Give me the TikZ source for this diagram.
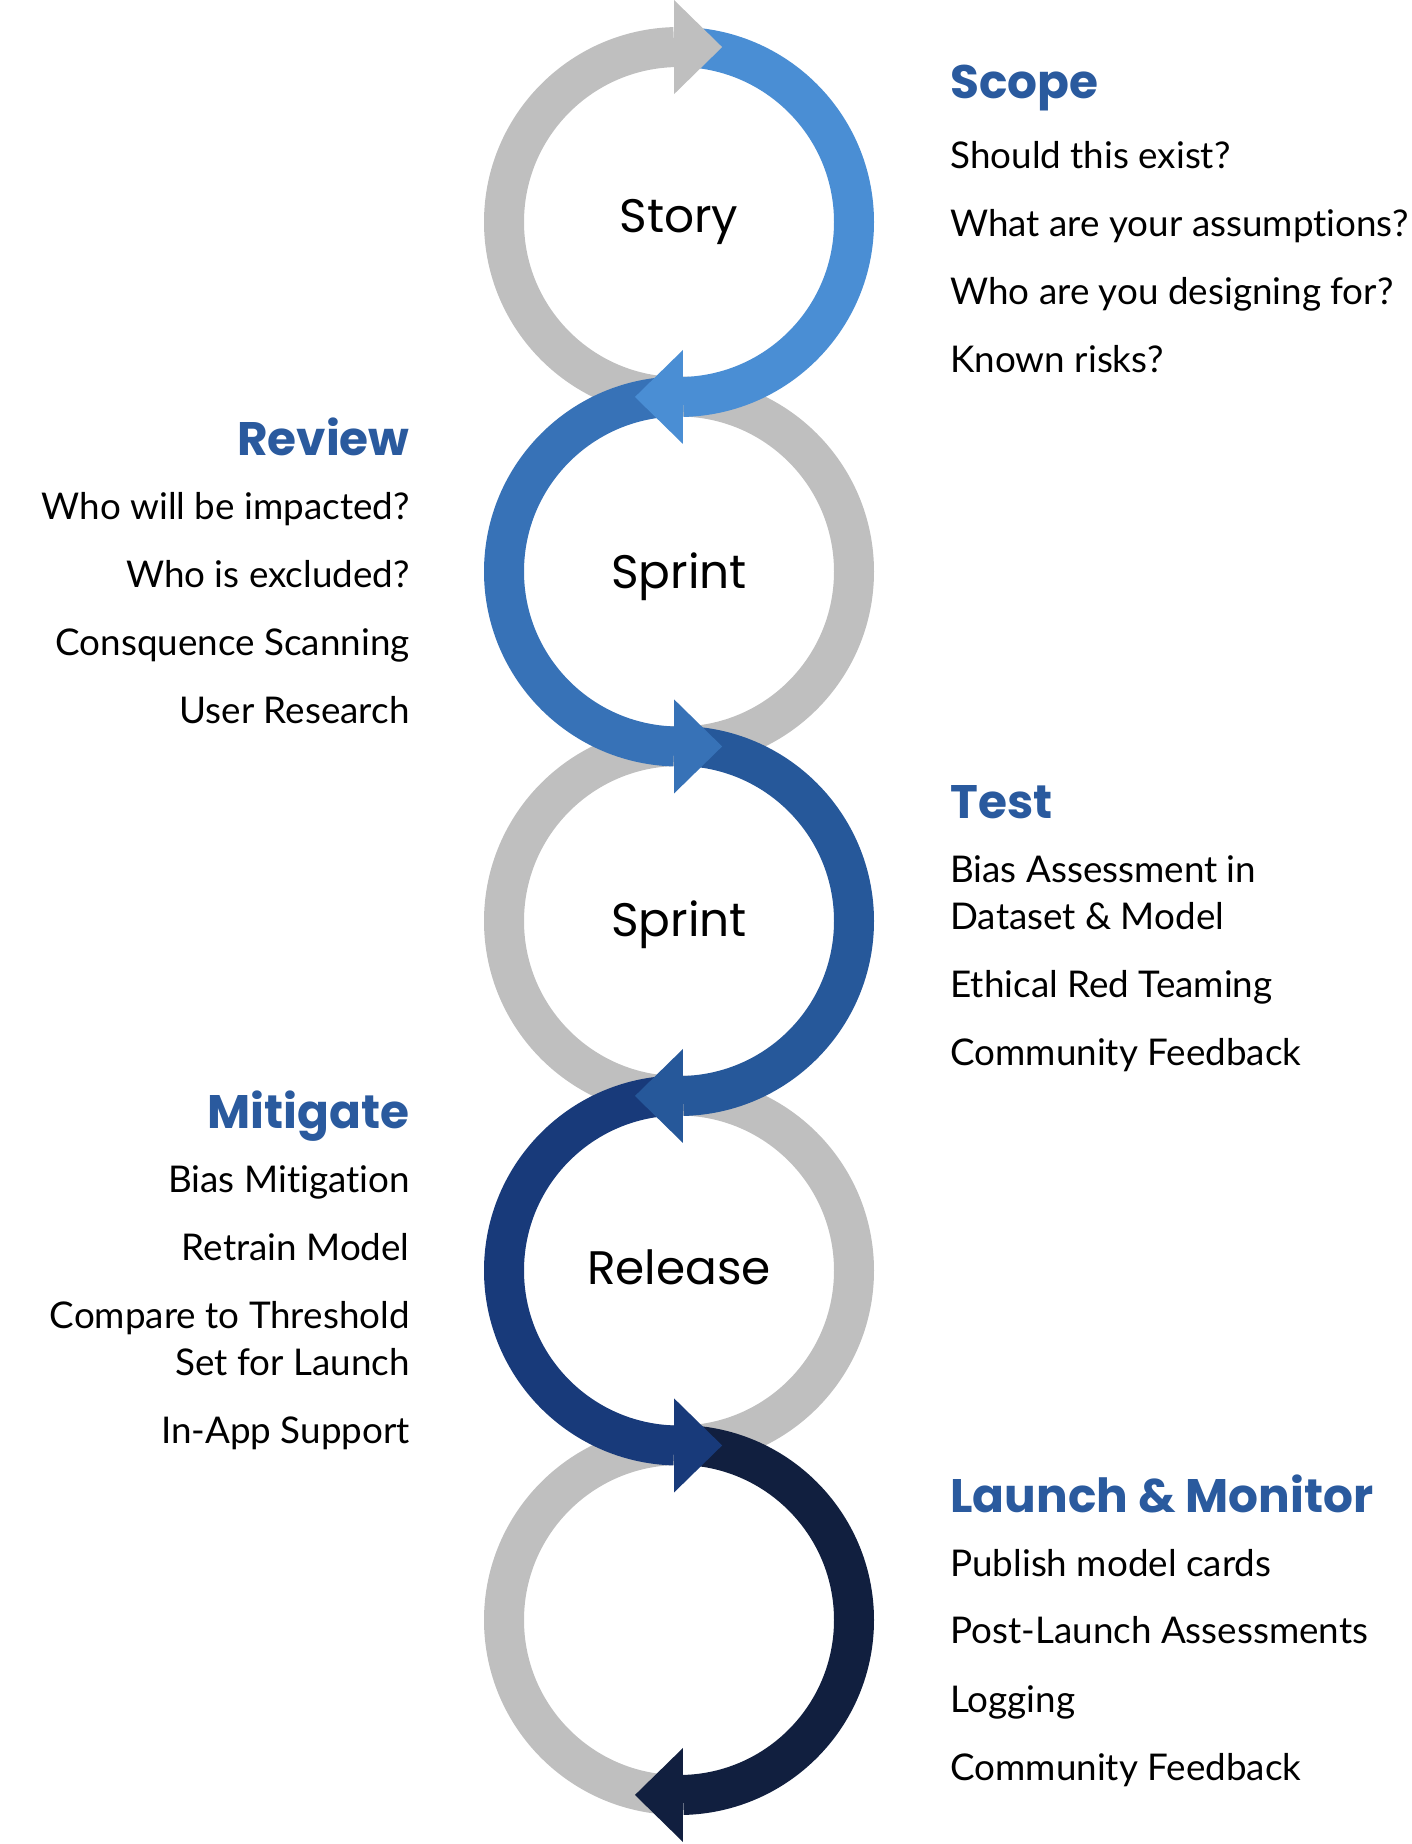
\documentclass[tikz,border=0pt]{standalone}
\usepackage{fontspec}
\setmainfont{Lato}[Ligatures=NoCommon]
\newfontfamily\headfont{Poppins}
\usepackage{xcolor}
\definecolor{colGray}{HTML}{BFBFBF}
\definecolor{colStory}{HTML}{4A8ED4}
\definecolor{colSprintA}{HTML}{3772B7}
\definecolor{colSprintB}{HTML}{26589A}
\definecolor{colRelease}{HTML}{183A7A}
\definecolor{colLaunch}{HTML}{111F3F}
\definecolor{colHead}{HTML}{2A5A9E}
\usepackage{tikz}
\usetikzlibrary{positioning}

\tikzset{
  ring/.style={line width=20pt, colGray},
  band/.style={line width=20pt},
  stage/.style={font=\headfont\fontsize{23.5}{28}\selectfont, inner sep=0pt, anchor=base},
  phase/.style={font=\headfont\bfseries\fontsize{23.5}{28}\selectfont, text=colHead, inner sep=0pt},
  item/.style={font=\fontsize{18.4}{23}\selectfont, inner sep=0pt},
}
% arrow heads: base point, then pointing right or left
\newcommand{\tipR}[2]{\fill[#1] (#2) ++(0,47) -- ++(48,-47) -- ++(-48,-47) -- cycle;}
\newcommand{\tipL}[2]{\fill[#1] (#2) ++(0,47) -- ++(-48,-47) -- ++(48,-47) -- cycle;}

\begin{document}
\begin{tikzpicture}[x=0.5pt, y=0.5pt]
    \useasboundingbox (0,0) rectangle (1412,-1844);
    % Centres
    \coordinate (c1) at (679,-222);
    \coordinate (c2) at (679,-571.5);
    \coordinate (c3) at (679,-921);
    \coordinate (c4) at (679,-1270.5);
    \coordinate (c5) at (679,-1620);
    % Grey halves
    \draw[ring] (c1) ++(270:87.5pt) arc[start angle=270, end angle=91.6, radius=87.5pt] coordinate (g1);
    \draw[ring] (c2) ++(-90:87.5pt) arc[start angle=-90, end angle=90, radius=87.5pt];
    \draw[ring] (c3) ++(90:87.5pt) arc[start angle=90, end angle=270, radius=87.5pt];
    \draw[ring] (c4) ++(-90:87.5pt) arc[start angle=-90, end angle=90, radius=87.5pt];
    \draw[ring] (c5) ++(90:87.5pt) arc[start angle=90, end angle=270, radius=87.5pt];
    % Coloured halves
    \draw[band, colStory] (c1) ++(90:87.5pt) arc[start angle=90, end angle=-88.7, radius=87.5pt] coordinate (h1);
    \draw[band, colSprintA] (c2) ++(90:87.5pt) arc[start angle=90, end angle=268.4, radius=87.5pt] coordinate (h2);
    \draw[band, colSprintB] (c3) ++(90:87.5pt) arc[start angle=90, end angle=-88.7, radius=87.5pt] coordinate (h3);
    \draw[band, colRelease] (c4) ++(90:87.5pt) arc[start angle=90, end angle=268.4, radius=87.5pt] coordinate (h4);
    \draw[band, colLaunch] (c5) ++(90:87.5pt) arc[start angle=90, end angle=-88.7, radius=87.5pt] coordinate (h5);
    % Heads
    \tipR{colGray}{g1}
    \tipL{colLaunch}{h5}
    \tipR{colRelease}{h4}
    \tipL{colSprintB}{h3}
    \tipR{colSprintA}{h2}
    \tipL{colStory}{h1}
    % Stage labels
    \node[stage] (story) at (679,-232) {Story};
    \node[stage] (sprintA) at (679,-588) {Sprint};
    \node[stage] (sprintB) at (679,-936) {Sprint};
    \node[stage] (release) at (679,-1284) {Release};

    % Scope
    \node[phase, anchor=base west] (scope) at (950,-98) {Scope};
    \node[item, below=35pt of scope.base west, anchor=base west] (scope1) {Should this exist?};
    \node[item, below=34pt of scope1.base west, anchor=base west] (scope2) {What are your assumptions?};
    \node[item, below=34pt of scope2.base west, anchor=base west] (scope3) {Who are you designing for?};
    \node[item, below=34pt of scope3.base west, anchor=base west] (scope4) {Known risks?};
    % Review
    \node[phase, anchor=base east] (review) at (410,-455) {Review};
    \node[item, below=32pt of review.base east, anchor=base east] (review1) {Who will be impacted?};
    \node[item, below=34pt of review1.base east, anchor=base east] (review2) {Who is excluded?};
    \node[item, below=34pt of review2.base east, anchor=base east] (review3) {Consquence Scanning};
    \node[item, below=34pt of review3.base east, anchor=base east] (review4) {User Research};
    % Test
    \node[phase, anchor=base west] (test) at (950,-818) {Test};
    \node[item, below=32pt of test.base west, anchor=base west] (test1) {Bias Assessment in};
    \node[item, below=23.5pt of test1.base west, anchor=base west] (test1b) {Dataset \& Model};
    \node[item, below=34pt of test1b.base west, anchor=base west] (test2) {Ethical Red Teaming};
    \node[item, below=34pt of test2.base west, anchor=base west] (test3) {Community Feedback};
    % Mitigate
    \node[phase, anchor=base east] (mitigate) at (410,-1128) {Mitigate};
    \node[item, below=32pt of mitigate.base east, anchor=base east] (mitigate1) {Bias Mitigation};
    \node[item, below=34pt of mitigate1.base east, anchor=base east] (mitigate2) {Retrain Model};
    \node[item, below=34pt of mitigate2.base east, anchor=base east] (mitigate3) {Compare to Threshold};
    \node[item, below=23.5pt of mitigate3.base east, anchor=base east] (mitigate3b) {Set for Launch};
    \node[item, below=34pt of mitigate3b.base east, anchor=base east] (mitigate4) {In-App Support};
    % Launch & Monitor
    \node[phase, anchor=base west] (launch) at (950,-1512) {Launch \& Monitor};
    \node[item, below=32pt of launch.base west, anchor=base west] (launch1) {Publish model cards};
    \node[item, below=33.5pt of launch1.base west, anchor=base west] (launch2) {Post-Launch Assessments};
    \node[item, below=34.5pt of launch2.base west, anchor=base west] (launch3) {Logging};
    \node[item, below=34pt of launch3.base west, anchor=base west] (launch4) {Community Feedback};
\end{tikzpicture}
\end{document}
